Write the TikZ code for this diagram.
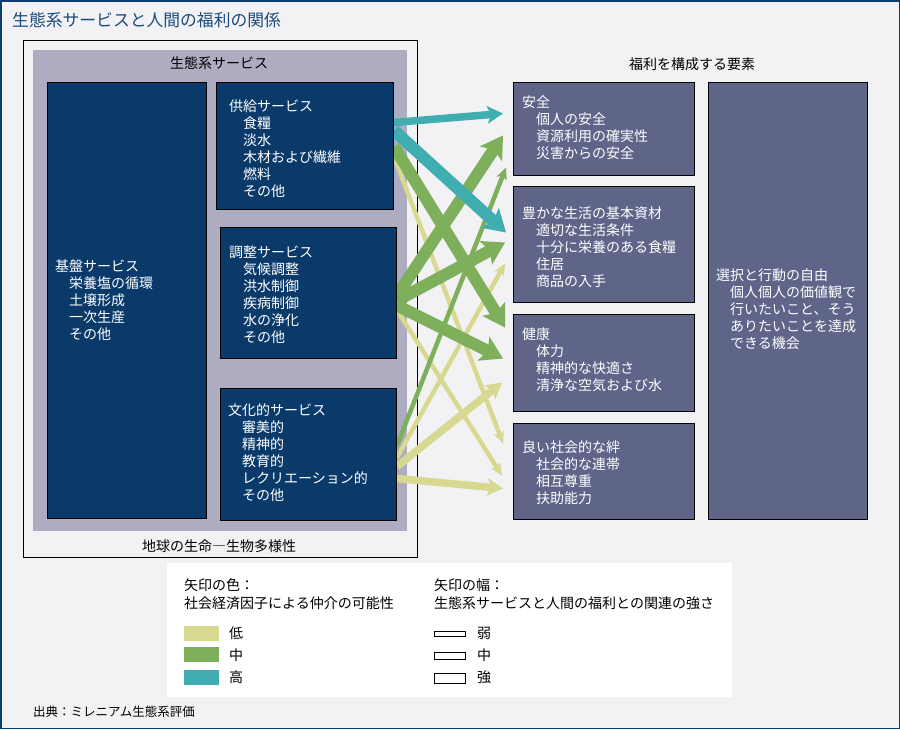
\documentclass[tikz,border=0pt]{standalone}
\usepackage{fontspec}
\setmainfont{Noto Sans CJK JP}
\usetikzlibrary{arrows.meta}
\definecolor{pagebg}{HTML}{F2F2F4}
\definecolor{frameblue}{HTML}{0B3D6E}
\definecolor{titleblue}{HTML}{1A4B7C}
\definecolor{navy}{HTML}{0A3A6A}
\definecolor{slate}{HTML}{5E6589}
\definecolor{panelgray}{HTML}{AEACC0}
\definecolor{lowc}{HTML}{D8D990}
\definecolor{midc}{HTML}{7EB05C}
\definecolor{highc}{HTML}{40AEB0}
\tikzset{
  >=latex,
  x=1pt, y=-1pt,
}
\tikzstyle{every node}=[font=\fontsize{14}{17}\selectfont, inner sep=0pt]
\tikzstyle{svcbox}=[draw=black, line width=1pt, fill=navy, anchor=north west]
\tikzstyle{wellbox}=[draw=black, line width=1pt, fill=slate, anchor=north west]
\tikzstyle{boxtext}=[text=white, align=left, anchor=west]
\tikzstyle{swatch}=[anchor=north west, minimum width=35pt, minimum height=15pt]
\tikzstyle{bar}=[draw=black, line width=1pt, fill=white, minimum width=31pt]
\tikzstyle{weak}=[line width=4.5pt, -{Stealth[length=12pt,width=11pt,inset=3pt,line width=0pt]}]
\tikzstyle{medium}=[line width=7.5pt, -{Stealth[length=16pt,width=18pt,inset=4pt,line width=0pt]}]
\tikzstyle{strong}=[line width=12pt, -{Stealth[length=22pt,width=27pt,inset=5pt,line width=0pt]}]
\newcommand{\ind}{\hspace*{14pt}}
\pgfdeclarelayer{back}
\pgfdeclarelayer{links}
\pgfsetlayers{back,links,main}

\begin{document}
\begin{tikzpicture}
    \useasboundingbox (0,0) rectangle (900,729);
    \begin{pgfonlayer}{back}
    \fill[pagebg] (0,0) rectangle (900,729);
    \draw[frameblue, line width=1.5pt] (0.75,0.75) rectangle (899.25,728.25);
    \draw[black, line width=1pt] (23,40) rectangle (417,557);
    \fill[panelgray] (33,50) rectangle (407,531);
    \fill[white] (167,563) rectangle (732,697);
    \end{pgfonlayer}

    \node[anchor=west, text=titleblue, font=\fontsize{16.8}{20}\selectfont] (title) at (12,20) {生態系サービスと人間の福利の関係};
    \node (svchead) at (219,63.5) {生態系サービス};
    \node (biohead) at (219,546) {地球の生命―生物多様性};
    \node (wellhead) at (692,64) {福利を構成する要素};

    % ecosystem services
    \node[svcbox, minimum width=159pt, minimum height=436pt] (kiban) at (47,82) {};
    \node[svcbox, minimum width=177pt, minimum height=127pt] (prov) at (216,82) {};
    \node[svcbox, minimum width=176pt, minimum height=131pt] (regul) at (220,227) {};
    \node[svcbox, minimum width=176pt, minimum height=132pt] (cult) at (220,388) {};
    \node[boxtext] (kibantxt) at ([xshift=8pt]kiban.west)
      {基盤サービス\\\ind 栄養塩の循環\\\ind 土壌形成\\\ind 一次生産\\\ind その他};
    \node[boxtext] (provtxt) at ([xshift=13pt,yshift=-2.5pt]prov.west)
      {供給サービス\\\ind 食糧\\\ind 淡水\\\ind 木材および繊維\\\ind 燃料\\\ind その他};
    \node[boxtext] (regultxt) at ([xshift=9pt,yshift=-2pt]regul.west)
      {調整サービス\\\ind 気候調整\\\ind 洪水制御\\\ind 疾病制御\\\ind 水の浄化\\\ind その他};
    \node[boxtext] (culttxt) at ([xshift=8pt,yshift=1.5pt]cult.west)
      {文化的サービス\\\ind 審美的\\\ind 精神的\\\ind 教育的\\\ind レクリエーション的\\\ind その他};

    % constituents of well-being
    \node[wellbox, minimum width=181pt, minimum height=93pt] (safety) at (513,82) {};
    \node[wellbox, minimum width=181pt, minimum height=116pt] (material) at (513,186) {};
    \node[wellbox, minimum width=181pt, minimum height=97pt] (health) at (513,314) {};
    \node[wellbox, minimum width=181pt, minimum height=96pt] (social) at (513,423) {};
    \node[wellbox, minimum width=159pt, minimum height=437pt] (freedom) at (708,82) {};
    \node[boxtext] (safetytxt) at ([xshift=9pt,yshift=1pt]safety.west)
      {安全\\\ind 個人の安全\\\ind 資源利用の確実性\\\ind 災害からの安全};
    \node[boxtext] (materialtxt) at ([xshift=9pt,yshift=-2.5pt]material.west)
      {豊かな生活の基本資材\\\ind 適切な生活条件\\\ind 十分に栄養のある食糧\\\ind 住居\\\ind 商品の入手};
    \node[boxtext] (healthtxt) at ([xshift=9pt,yshift=3pt]health.west)
      {健康\\\ind 体力\\\ind 精神的な快適さ\\\ind 清浄な空気および水};
    \node[boxtext] (socialtxt) at ([xshift=9pt,yshift=-1.5pt]social.west)
      {良い社会的な絆\\\ind 社会的な連帯\\\ind 相互尊重\\\ind 扶助能力};
    \node[boxtext] (freedomtxt) at ([xshift=8pt,yshift=-8.5pt]freedom.west)
      {選択と行動の自由\\\ind 個人個人の価値観で\\\ind 行いたいこと、そう\\\ind ありたいことを達成\\\ind できる機会};

    % arrows
    \begin{pgfonlayer}{links}
    \draw[weak, lowc] ([yshift=-10.5pt]prov.east) -- ([xshift=-10pt,yshift=28pt]social.west);
    \draw[weak, lowc] ([yshift=-17pt]regul.east) -- ([xshift=-11pt,yshift=-4pt]social.west);
    \draw[weak, lowc] ([yshift=-3pt]cult.east) -- ([xshift=-8pt,yshift=-19pt]material.west);
    \draw[medium, lowc] ([yshift=-12pt]cult.east) -- ([xshift=-11pt,yshift=-19.5pt]health.west);
    \draw[medium, lowc] ([yshift=-24pt]cult.east) -- ([xshift=-10pt,yshift=-17pt]social.west);
    \draw[weak, midc] ([yshift=9pt]cult.east) -- ([xshift=-7pt,yshift=-38.5pt]safety.west);
    \draw[strong, midc] ([yshift=-0.5pt]prov.east) -- ([xshift=-8pt,yshift=35.5pt]health.west);
    \draw[strong, midc] ([yshift=-2.5pt]regul.east) -- ([xshift=-10pt,yshift=-6.5pt]safety.west);
    \draw[strong, midc] ([yshift=-7.5pt]regul.east) -- ([xshift=-8pt,yshift=2pt]material.west);
    \draw[strong, midc] ([yshift=-12.5pt]regul.east) -- ([xshift=-10pt,yshift=4.5pt]health.west);
    \draw[strong, highc] ([yshift=15.5pt]prov.east) -- ([xshift=-7pt,yshift=12pt]material.west);
    \draw[medium, highc] ([yshift=23.5pt]prov.east) -- ([xshift=-10pt,yshift=15.5pt]safety.west);
    \end{pgfonlayer}

    % legend
    \node[anchor=west] (colhead) at (184,585) {矢印の色：};
    \node[anchor=west] (colsub) at (184,603) {社会経済因子による仲介の可能性};
    \node[anchor=west] (widhead) at (434,585) {矢印の幅：};
    \node[anchor=west] (widsub) at (434,603) {生態系サービスと人間の福利との関連の強さ};
    \node[swatch, fill=lowc] (swlow) at (184,626) {};
    \node[swatch, fill=midc] (swmid) at (184,647) {};
    \node[swatch, fill=highc] (swhigh) at (184,670) {};
    \node[anchor=west] (lowlbl) at (229,633) {低};
    \node[anchor=west] (midlbl) at (229,655) {中};
    \node[anchor=west] (highlbl) at (229,677) {高};
    \node[bar, minimum height=5pt] (barweak) at (449.5,633.5) {};
    \node[bar, minimum height=7pt] (barmid) at (449.5,655.5) {};
    \node[bar, minimum height=10pt] (barstrong) at (449.5,678) {};
    \node[anchor=west] (weaklbl) at (477,633) {弱};
    \node[anchor=west] (medlbl) at (477,655) {中};
    \node[anchor=west] (stronglbl) at (477,677) {強};

    \node[anchor=west, font=\fontsize{12.5}{15}\selectfont] (source) at (33,712) {出典：ミレニアム生態系評価};
\end{tikzpicture}
\end{document}
